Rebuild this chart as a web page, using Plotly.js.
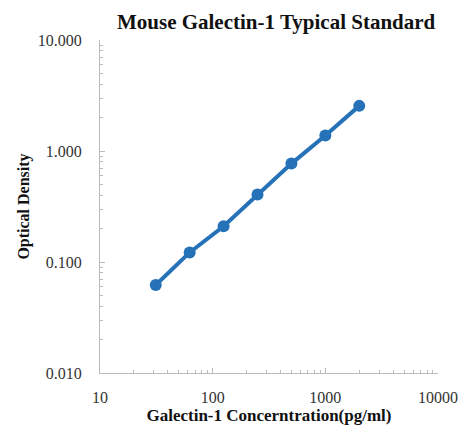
<!DOCTYPE html>
<html><head><meta charset="utf-8">
<script src="https://cdn.plot.ly/plotly-3.0.1.min.js"></script>
<style>html,body{margin:0;padding:0;background:#fff}#chart{width:468px;height:427px}</style>
</head><body><div id="chart"></div>
<script>
const concentration = [31.25, 62.5, 125, 250, 500, 1000, 2000];
const opticalDensity = [0.062, 0.122, 0.21, 0.405, 0.77, 1.38, 2.55];
const xTickVals = [10, 100, 1000, 10000];
const xTickText = ['10', '100', '1000', '10000'];
const yTickVals = [0.01, 0.1, 1, 10];
const yTickText = ['0.010', '0.100', '1.000', '10.000'];

const trace = {
  x: concentration, y: opticalDensity, type: 'scatter', mode: 'lines+markers',
  line: {color: '#2672B8', width: 4},
  marker: {color: '#2672B8', size: 12},
  showlegend: false
};
const serif = 'Liberation Serif, Times New Roman, serif';
const axisFont = {family: serif, size: 16, color: '#333'};
const layout = {
  width: 468, height: 427,
  margin: {l: 100, r: 30, t: 40, b: 54},
  paper_bgcolor: '#fff', plot_bgcolor: '#fff',
  title: {text: '<b>Mouse Galectin-1 Typical Standard</b>', x: 0.59, xanchor: 'center', y: 0.95, yanchor: 'middle',
          font: {family: serif, size: 21, color: '#111'}},
  xaxis: {type: 'log', range: [1, 4], tickvals: xTickVals, ticktext: xTickText,
          showgrid: false, zeroline: false, showline: true, linecolor: '#bbb', linewidth: 1,
          ticks: 'inside', ticklen: 5, tickcolor: '#bbb', ticklabelstandoff: 10,
          minor: {ticks: 'inside', ticklen: 3, tickcolor: '#bbb', dtick: 'D1', showgrid: false},
          tickfont: axisFont,
          title: {text: '<b>Galectin-1 Concerntration(pg/ml)</b>', standoff: 0,
                  font: {family: serif, size: 17, color: '#111'}}},
  yaxis: {type: 'log', range: [-2, 1], tickvals: yTickVals, ticktext: yTickText,
          showgrid: false, zeroline: false, showline: true, linecolor: '#bbb', linewidth: 1,
          ticks: 'inside', ticklen: 5, tickcolor: '#bbb', ticklabelstandoff: 14,
          minor: {ticks: 'inside', ticklen: 3, tickcolor: '#bbb', dtick: 'D1', showgrid: false},
          tickfont: axisFont,
          title: {text: '<b>Optical Density</b>', standoff: 4,
                  font: {family: serif, size: 16, color: '#111'}}}
};
Plotly.newPlot('chart', [trace], layout, {displayModeBar: false, staticPlot: true});
</script></body></html>
